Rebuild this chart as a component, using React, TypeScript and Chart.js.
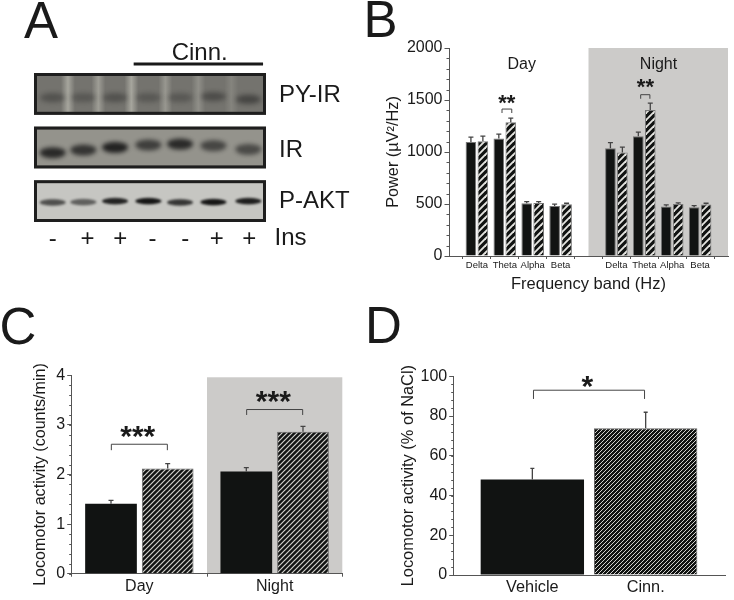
import React, { useEffect, useRef } from "react";
import { Chart, registerables } from "chart.js";

Chart.register(...registerables);

const FONT = '"Liberation Sans", Arial, sans-serif';
const INK = "#1a1a1a";
const AXIS = "#555555";
const BLACK = "#111312";
const SHADE = "#cccbc9";

// ---------- Panel A (immunoblot) ----------
const insLabels = ["-", "+", "+", "-", "-", "+", "+"];
const insPositions = [1, 2.07, 3.07, 4.06, 5.06, 6.02, 7.02];
const blotNames = ["P-AKT", "IR", "PY-IR"];
const blotNamePositions = [0.99, 1.95, 2.97];
const bandX = [1, 1.94, 2.91, 3.93, 4.9, 5.92, 6.99];
const pyBandY = [2.93, 2.93, 2.93, 2.93, 2.93, 2.95, 2.9];
const pyBandDark = [0.36, 0.3, 0.36, 0.3, 0.3, 0.42, 0.5];
const irBandY = [1.903, 1.953, 2.003, 2.047, 2.065, 2.034, 1.966];
const irBandDark = [0.85, 0.76, 0.9, 0.68, 0.84, 0.62, 0.58];
const aktBandY = [0.975, 0.981, 1.0, 1.0, 0.975, 0.981, 1.0];
const aktBandDark = [0.68, 0.58, 0.92, 1, 0.82, 1, 0.95];
const pyGapX = [1.47, 2.4, 3.41, 4.45, 5.46, 6.47];
const pyGapLight = [0.36, 0.3, 0.36, 0.26, 0.2, 0.12];

// ---------- Panel B ----------
const bandLabels = ["", "Delta", "Theta", "Alpha", "Beta", "", "Delta", "Theta", "Alpha", "Beta", ""];
const bVehicle = [null, 1095, 1130, 507, 481, null, 1037, 1152, 475, 469, null];
const bVehicleTop = [null, 1143, 1172, 523, 498, null, 1091, 1191, 491, 485, null];
const bCinn = [null, 1104, 1287, 510, 497, null, 995, 1403, 500, 494, null];
const bCinnTop = [null, 1152, 1326, 523, 507, null, 1046, 1470, 510, 507, null];

// ---------- Panel C ----------
const dayNight = ["Day", "Night"];
const cVehicle = [1.41, 2.06];
const cVehicleTop = [1.48, 2.14];
const cCinn = [2.12, 2.86];
const cCinnTop = [2.22, 2.97];

// ---------- Panel D ----------
const dLabels = ["Vehicle", "Cinn."];
const dValues = [48, 73.8];
const dTops = [53.7, 81.9];

type Txt = { t: string; x: number; y: number; font: string; align?: CanvasTextAlign; base?: CanvasTextBaseline };
type Bracket = { x0: number; x1: number; top: number; leg: number };
type Cfg = {
  letter: { t: string; x: number; y: number };
  shade?: { x0: number; x1: number; y0: number; y1: number };
  minorStep?: number;
  tops?: ((number | null)[] | null)[];
  cap?: number;
  brackets?: Bracket[];
  texts?: Txt[];
};

function stripes(period: number, width: number, color: string) {
  const c = document.createElement("canvas");
  c.width = period;
  c.height = period;
  const g = c.getContext("2d")!;
  g.fillStyle = BLACK;
  g.fillRect(0, 0, period, period);
  g.strokeStyle = color;
  g.lineWidth = width;
  for (const k of [-period, 0, period]) {
    g.beginPath();
    g.moveTo(k - 1, period + 1);
    g.lineTo(k + period + 1, -1);
    g.stroke();
  }
  return g.createPattern(c, "repeat")!;
}

function softBand(w: number, h: number, dark: number, blur: number) {
  const c = document.createElement("canvas");
  c.width = w + 16;
  c.height = h + 16;
  const g = c.getContext("2d")!;
  g.filter = `blur(${blur}px)`;
  g.fillStyle = `rgba(22,22,22,${dark})`;
  g.beginPath();
  g.ellipse(c.width / 2, c.height / 2, w / 2, h / 2, 0, 0, Math.PI * 2);
  g.fill();
  return c;
}

function panelPlugin(cfg: Cfg) {
  return {
    id: "panel",
    beforeDraw(chart: any) {
      const { x, y } = chart.scales;
      const g = chart.ctx;
      if (cfg.shade) {
        const s = cfg.shade;
        g.fillStyle = SHADE;
        g.fillRect(
          x.getPixelForValue(s.x0),
          y.getPixelForValue(s.y1),
          x.getPixelForValue(s.x1) - x.getPixelForValue(s.x0),
          y.getPixelForValue(s.y0) - y.getPixelForValue(s.y1)
        );
      }
    },
    afterDraw(chart: any) {
      const { x, y } = chart.scales;
      const g = chart.ctx;
      g.save();
      g.strokeStyle = AXIS;
      if (cfg.minorStep) {
        g.lineWidth = 1;
        for (let v = y.min; v <= y.max + 1e-9; v += cfg.minorStep) {
          const py = Math.round(y.getPixelForValue(v)) + 0.5;
          g.beginPath();
          g.moveTo(chart.chartArea.left - 2.5, py);
          g.lineTo(chart.chartArea.left, py);
          g.stroke();
        }
      }
      (cfg.tops || []).forEach((arr, di) => {
        if (!arr) return;
        const meta = chart.getDatasetMeta(di);
        g.lineWidth = 1.3;
        g.strokeStyle = "#444444";
        arr.forEach((top, i) => {
          if (top == null) return;
          const el = meta.data[i];
          const py = y.getPixelForValue(top);
          g.beginPath();
          g.moveTo(el.x, el.y);
          g.lineTo(el.x, py);
          g.moveTo(el.x - (cfg.cap || 2.5), py);
          g.lineTo(el.x + (cfg.cap || 2.5), py);
          g.stroke();
        });
      });
      g.lineWidth = 1;
      g.strokeStyle = "#444444";
      (cfg.brackets || []).forEach((b) => {
        const a = x.getPixelForValue(b.x0);
        const c = x.getPixelForValue(b.x1);
        const t = y.getPixelForValue(b.top);
        const l = y.getPixelForValue(b.leg);
        g.beginPath();
        g.moveTo(a, l);
        g.lineTo(a, t);
        g.lineTo(c, t);
        g.lineTo(c, l);
        g.stroke();
      });
      g.fillStyle = INK;
      (cfg.texts || []).forEach((s) => {
        g.font = s.font;
        g.textAlign = s.align || "center";
        g.textBaseline = s.base || "alphabetic";
        g.fillText(s.t, x.getPixelForValue(s.x), y.getPixelForValue(s.y));
      });
      g.font = `51px ${FONT}`;
      g.textAlign = "left";
      g.textBaseline = "alphabetic";
      g.fillText(cfg.letter.t, cfg.letter.x, cfg.letter.y);
      g.restore();
    },
  };
}

function yScale(max: number, step: number, title: string, width: number, titlePad: number, titleSize: number) {
  return {
    min: 0,
    max,
    afterFit: (s: any) => {
      s.width = width;
    },
    ticks: {
      stepSize: step,
      color: INK,
      padding: 2,
      font: { family: FONT, size: 16 },
      callback: (v: any) => String(v),
    },
    grid: { drawOnChartArea: false, drawTicks: true, tickLength: 4.5, tickColor: AXIS },
    border: { display: true, color: AXIS, width: 1 },
    title: {
      display: true,
      text: title,
      color: INK,
      padding: { top: titlePad, bottom: 0 },
      font: { family: FONT, size: titleSize },
    },
  };
}

const base = (pad: any) => ({
  responsive: false,
  animation: false as const,
  layout: { padding: { bottom: 0, ...pad } },
  plugins: { legend: { display: false }, tooltip: { enabled: false } },
});

function buildA(canvas: HTMLCanvasElement) {
  const strips = [
    { c: 3, fill: "#74736e" },
    { c: 2, fill: "#94938c" },
    { c: 1, fill: "#c6c6c2" },
  ];
  const half = 0.39;
  const cfg = panelPlugin({
    letter: { t: "A", x: 24, y: 38 },
    texts: [
      { t: "Cinn.", x: 5.5, y: 3.63, font: `24px ${FONT}` },
      { t: "Ins", x: 8.28, y: 0.3, font: `24px ${FONT}`, align: "center", base: "middle" },
    ],
  });
  const blot = {
    id: "blot",
    beforeDatasetsDraw(chart: any) {
      const { x, y } = chart.scales;
      const g = chart.ctx;
      const L = chart.chartArea.left;
      const R = chart.chartArea.right;
      g.save();
      strips.forEach((s) => {
        const t = y.getPixelForValue(s.c + half);
        const b = y.getPixelForValue(s.c - half);
        g.fillStyle = s.fill;
        g.fillRect(L, t, R - L, b - t);
        if (s.c === 3) {
          pyGapX.forEach((gx, i) => {
            const px = x.getPixelForValue(gx);
            const gr = g.createLinearGradient(px - 7, 0, px + 7, 0);
            gr.addColorStop(0, "rgba(255,255,240,0)");
            gr.addColorStop(0.5, `rgba(255,255,240,${pyGapLight[i]})`);
            gr.addColorStop(1, "rgba(255,255,240,0)");
            g.fillStyle = gr;
            g.fillRect(px - 7, t, 14, b - t);
          });
        }
      });
      g.restore();
    },
    afterDatasetsDraw(chart: any) {
      const { x, y } = chart.scales;
      const g = chart.ctx;
      const L = chart.chartArea.left;
      const R = chart.chartArea.right;
      g.save();
      g.strokeStyle = "#1e1e1e";
      g.lineWidth = 3;
      strips.forEach((s) => {
        const t = y.getPixelForValue(s.c + half);
        const b = y.getPixelForValue(s.c - half);
        g.strokeRect(L + 1.5, t + 1.5, R - L - 3, b - t - 3);
      });
      g.lineWidth = 3;
      g.strokeStyle = "#1a1a1a";
      const ly = y.getPixelForValue(3.56);
      g.beginPath();
      g.moveTo(x.getPixelForValue(3.48), ly);
      g.lineTo(x.getPixelForValue(7.44), ly);
      g.stroke();
      g.restore();
    },
  };
  const toPts = (ys: number[]) => ys.map((v, i) => ({ x: bandX[i], y: v }));
  return new Chart(canvas, {
    type: "scatter",
    data: {
      datasets: [
        { data: toPts(pyBandY), pointRadius: 3, pointStyle: pyBandDark.map((d) => softBand(25, 9, d, 2.6)) as any },
        { data: toPts(irBandY), pointRadius: 3, pointStyle: irBandDark.map((d) => softBand(26, 11, d, 2)) as any },
        { data: toPts(aktBandY), pointRadius: 3, pointStyle: aktBandDark.map((d) => softBand(26, 6.5, d, 1.2)) as any },
      ],
    },
    options: {
      ...base({ left: 34, top: 73, right: 0 }),
      scales: {
        x: {
          type: "linear",
          min: 0.43,
          max: 7.53,
          afterFit: (s: any) => {
            s.height = 78;
          },
          afterBuildTicks: (s: any) => {
            s.ticks = insPositions.map((v) => ({ value: v }));
          },
          grid: { display: false, drawTicks: false },
          border: { display: false },
          ticks: {
            autoSkip: false,
            maxRotation: 0,
            padding: 3,
            color: INK,
            font: { family: FONT, size: 24 },
            callback: (_v: any, i: number) => insLabels[i],
          },
        },
        y: {
          type: "linear",
          position: "right",
          min: 0.61,
          max: 3.39,
          afterFit: (s: any) => {
            s.width = 94;
          },
          afterBuildTicks: (s: any) => {
            s.ticks = blotNamePositions.map((v) => ({ value: v }));
          },
          grid: { display: false, drawTicks: false },
          border: { display: false },
          ticks: {
            padding: 13,
            color: INK,
            font: { family: FONT, size: 24 },
            callback: (_v: any, i: number) => blotNames[i],
          },
        },
      },
    } as any,
    plugins: [blot as any, cfg as any],
  });
}

function buildB(canvas: HTMLCanvasElement) {
  const hatch = stripes(7, 1.9, "#e4e4e0");
  const cfg = panelPlugin({
    letter: { t: "B", x: 3.5, y: 37 },
    shade: { x0: 5, x1: 10, y0: 0, y1: 2000 },
    minorStep: 100,
    tops: [bVehicleTop, bCinnTop],
    cap: 2.5,
    brackets: [
      { x0: 1.9, x1: 2.25, top: 1413, leg: 1375 },
      { x0: 6.87, x1: 7.2, top: 1551, leg: 1512 },
    ],
    texts: [
      { t: "Day", x: 2.607, y: 1845, font: `16px ${FONT}`, base: "middle" },
      { t: "Night", x: 7.51, y: 1845, font: `16px ${FONT}`, base: "middle" },
      { t: "**", x: 2.07, y: 1400, font: `bold 22px ${FONT}` },
      { t: "**", x: 7.04, y: 1555, font: `bold 22px ${FONT}` },
    ],
  });
  return new Chart(canvas, {
    type: "bar",
    data: {
      labels: bandLabels,
      datasets: [
        { data: bVehicle, backgroundColor: BLACK, borderColor: "#777", borderWidth: 1 },
        { data: bCinn, backgroundColor: hatch, borderColor: "#777", borderWidth: 1 },
      ] as any,
    },
    options: {
      ...base({ left: 0, top: 48, right: 6 }),
      datasets: { bar: { categoryPercentage: 0.857, barPercentage: 0.89 } },
      scales: {
        x: {
          offset: false,
          afterFit: (s: any) => {
            s.height = 44;
          },
          grid: { offset: true, drawOnChartArea: false, drawTicks: true, tickLength: 3, tickColor: AXIS },
          border: { display: true, color: AXIS, width: 1 },
          ticks: { autoSkip: false, maxRotation: 0, padding: 1, color: INK, font: { family: FONT, size: 9.5 } },
          title: {
            display: true,
            text: "Frequency band (Hz)",
            color: INK,
            padding: { top: 0, bottom: 6 },
            font: { family: FONT, size: 16.5 },
          },
        },
        y: yScale(2000, 500, "Power (µV²/Hz)", 89, 23.4, 16.3),
      },
    } as any,
    plugins: [cfg as any],
  });
}

function buildC(canvas: HTMLCanvasElement) {
  const hatch = stripes(5, 1.2, "#d0d0cc");
  const cfg = panelPlugin({
    letter: { t: "C", x: -0.5, y: 44 },
    shade: { x0: 0.5, x1: 1.5, y0: 0, y1: 3.96 },
    minorStep: 0.2,
    tops: [cVehicleTop, cCinnTop],
    cap: 2.5,
    brackets: [
      { x0: -0.207, x1: 0.207, top: 2.61, leg: 2.49 },
      { x0: 0.793, x1: 1.207, top: 3.31, leg: 3.2 },
    ],
    texts: [
      { t: "***", x: -0.012, y: 2.57, font: `bold 30px ${FONT}` },
      { t: "***", x: 0.99, y: 3.29, font: `bold 30px ${FONT}` },
    ],
  });
  return new Chart(canvas, {
    type: "bar",
    data: {
      labels: dayNight,
      datasets: [
        { data: cVehicle, backgroundColor: BLACK },
        { data: cCinn, backgroundColor: hatch, borderColor: "#666", borderWidth: 1 },
      ],
    },
    options: {
      ...base({ left: 0, top: 75.3, right: 17.7 }),
      datasets: { bar: { categoryPercentage: 0.838, barPercentage: 0.912 } },
      scales: {
        x: {
          offset: true,
          afterFit: (s: any) => {
            s.height = 26.3;
          },
          grid: { offset: true, drawOnChartArea: false, drawTicks: true, tickLength: 3, tickColor: AXIS },
          border: { display: true, color: AXIS, width: 1 },
          ticks: { maxRotation: 0, padding: 0, color: INK, font: { family: FONT, size: 16 } },
        },
        y: yScale(4, 1, "Locomotor activity (counts/min)", 71.7, 31, 16.1),
      },
    } as any,
    plugins: [cfg as any],
  });
}

function buildD(canvas: HTMLCanvasElement) {
  const hatch = stripes(4, 1, "#d0d0cc");
  const cfg = panelPlugin({
    letter: { t: "D", x: 5, y: 43 },
    minorStep: 4,
    tops: [dTops],
    cap: 2,
    brackets: [{ x0: 0.01, x1: 0.99, top: 93, leg: 88.6 }],
    texts: [{ t: "*", x: 0.485, y: 90, font: `bold 30px ${FONT}` }],
  });
  return new Chart(canvas, {
    type: "bar",
    data: {
      datasets: [
        {
          data: dValues.map((v, i) => ({ x: i, y: v })),
          backgroundColor: [BLACK, hatch],
          borderColor: ["rgba(0,0,0,0)", "#666"],
          borderWidth: [0, 1],
        },
      ] as any,
    },
    options: {
      ...base({ left: 0, top: 76.3, right: 9 }),
      datasets: { bar: { categoryPercentage: 1, barPercentage: 0.912 } },
      scales: {
        x: {
          type: "linear",
          offset: false,
          min: -0.694,
          max: 1.7,
          afterFit: (s: any) => {
            s.height = 25;
          },
          afterBuildTicks: (s: any) => {
            s.ticks = [{ value: 0 }, { value: 1 }];
          },
          grid: { offset: false, display: false, drawTicks: false },
          border: { display: true, color: AXIS, width: 1 },
          ticks: {
            autoSkip: false,
            maxRotation: 0,
            padding: 3,
            color: INK,
            font: { family: FONT, size: 16.3 },
            callback: (_v: any, i: number) => dLabels[i],
          },
        },
        y: yScale(100, 20, "Locomotor activity (% of NaCl)", 93.7, 38.4, 16.4),
      },
    } as any,
    plugins: [cfg as any],
  });
}

export default function App() {
  const a = useRef<HTMLCanvasElement>(null);
  const b = useRef<HTMLCanvasElement>(null);
  const c = useRef<HTMLCanvasElement>(null);
  const d = useRef<HTMLCanvasElement>(null);
  useEffect(() => {
    const charts = [buildA(a.current!), buildB(b.current!), buildC(c.current!), buildD(d.current!)];
    return () => charts.forEach((ch) => ch.destroy());
  }, []);
  const pos = (left: number, top: number): React.CSSProperties => ({ position: "absolute", left, top, display: "block" });
  return (
    <div style={{ position: "absolute", left: 0, top: 0, width: 734, height: 600, background: "#fff", overflow: "hidden" }}>
      <canvas ref={a} width={360} height={300} style={pos(0, 0)} />
      <canvas ref={b} width={374} height={300} style={pos(360, 0)} />
      <canvas ref={c} width={360} height={300} style={pos(0, 300)} />
      <canvas ref={d} width={374} height={300} style={pos(360, 300)} />
    </div>
  );
}
